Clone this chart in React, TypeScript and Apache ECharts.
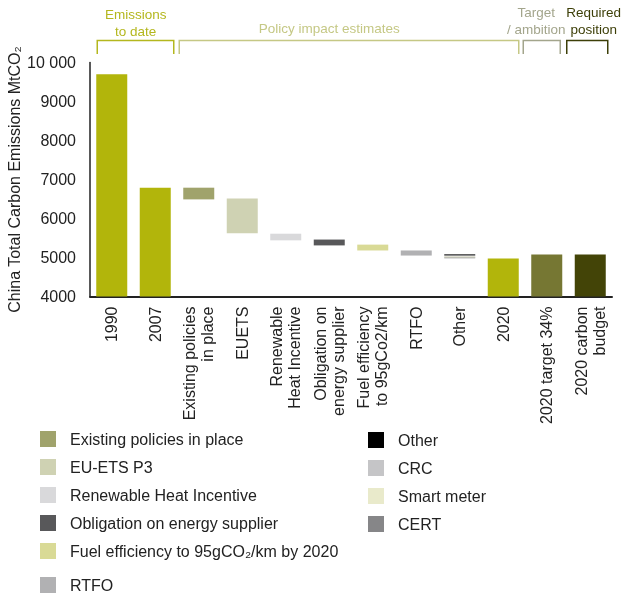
import React, { useEffect, useRef } from 'react';
import * as echarts from 'echarts';

const categories = [
  '1990',
  '2007',
  'Existing policies\nin place',
  'EUETS',
  'Renewable\nHeat Incentive',
  'Obligation on\nenergy supplier',
  'Fuel efficiency\nto 95gCo2/km',
  'RTFO',
  'Other',
  '2020',
  '2020 target 34%',
  '2020 carbon\nbudget',
];

const emissionTotals = [9700, 6790, null, null, null, null, null, null, null, 4975, null, null];
const targetValues = [null, null, null, null, null, null, null, null, null, null, 5075, null];
const budgetValues = [null, null, null, null, null, null, null, null, null, null, null, 5075];

const policyNames = [
  'Existing policies in place',
  'EU-ETS P3',
  'Renewable Heat Incentive',
  'Obligation on energy supplier',
  'Fuel efficiency to 95gCO₂/km by 2020',
  'RTFO',
];
const policyCategory = [2, 3, 4, 5, 6, 7];
const policyTop = [6790, 6510, 5610, 5460, 5330, 5180];
const policyBottom = [6490, 5620, 5440, 5310, 5180, 5050];
const policyColors = ['#a0a36c', '#cfd2b3', '#d9d9db', '#58585a', '#d9da96', '#b1b1b3'];

const otherCategory = 8;
const otherBase = 4980;
const otherNames = ['CERT', 'Smart meter', 'CRC', 'Other']; // bottom to top
const otherValues = [25, 25, 25, 25];
const otherColors = ['#868688', '#e9eacb', '#c5c5c7', '#000000'];
const otherLegendOrder = ['Other', 'CRC', 'Smart meter', 'CERT'];

const yTickValues = [4000, 5000, 6000, 7000, 8000, 9000, 10000];
const yTickLabels = ['4000', '5000', '6000', '7000', '8000', '9000', '10 000'];

const brackets = [
  { text: 'Emissions\nto date', from: 0, to: 1, l: -14.5, r: 18.5, textAt: 0.55, color: '#b4b71e', bottom: 40 },
  { text: 'Policy impact estimates', from: 2, to: 9, l: -19.5, r: 15.5, textAt: 5, color: '#c5c885', bottom: 37 },
  { text: 'Target\n/ ambition', from: 10, to: 10, l: -23.5, r: 13.5, textAt: 9.76, color: '#a3a58c', bottom: 38 },
  { text: 'Required\nposition', from: 11, to: 11, l: -23.5, r: 17.5, textAt: 11.08, color: '#3d3f08', bottom: 38 },
];

const FONT = '"Liberation Sans", Arial, Helvetica, sans-serif';

export default function App() {
  const ref = useRef<HTMLDivElement>(null);
  useEffect(() => {
    if (!ref.current) return;
    const chart = echarts.init(ref.current, null, { renderer: 'svg' });
    const n = categories.length;
    const empty = () => new Array(n).fill(null) as (number | null)[];

    const baseData = empty();
    policyCategory.forEach((c, i) => (baseData[c] = policyBottom[i]));
    baseData[otherCategory] = otherBase;

    const series: any[] = [
      {
        name: 'base',
        type: 'bar',
        stack: 'w',
        data: baseData,
        itemStyle: { color: 'transparent' },
        silent: true,
      },
      {
        name: 'Emissions',
        type: 'bar',
        stack: 'w',
        data: emissionTotals,
        itemStyle: { color: '#b2b50b' },
      },
    ];
    policyNames.forEach((name, i) => {
      const d = empty();
      d[policyCategory[i]] = policyTop[i] - policyBottom[i];
      series.push({ name, type: 'bar', stack: 'w', data: d, itemStyle: { color: policyColors[i] } });
    });
    otherNames.forEach((name, i) => {
      const d = empty();
      d[otherCategory] = otherValues[i];
      series.push({ name, type: 'bar', stack: 'w', data: d, itemStyle: { color: otherColors[i] } });
    });
    series.push({ name: '2020 target 34%', type: 'bar', stack: 'w', data: targetValues, itemStyle: { color: '#767733' } });
    series.push({ name: '2020 carbon budget', type: 'bar', stack: 'w', data: budgetValues, itemStyle: { color: '#434407' } });

    const legendCommon = {
      orient: 'vertical',
      icon: 'rect',
      itemWidth: 16,
      itemHeight: 16,
      itemGap: 12,
      padding: 0,
      selectedMode: false,
      textStyle: { fontSize: 16, color: '#222', fontFamily: FONT, padding: [0, 0, 0, 9] },
    };

    chart.setOption({
      animation: false,
      textStyle: { fontFamily: FONT },
      grid: { left: 90, right: 11, top: 62.5, bottom: 296.5, containLabel: false, outerBoundsMode: 'none' },
      legend: [
        { ...legendCommon, left: 40, top: 431, data: policyNames.slice(0, 5) },
        { ...legendCommon, left: 40, top: 577, data: policyNames.slice(5) },
        { ...legendCommon, left: 368, top: 432, data: otherLegendOrder },
      ],
      xAxis: {
        type: 'category',
        data: categories,
        axisLine: { lineStyle: { color: '#222', width: 2 } },
        axisTick: { show: false },
        axisLabel: {
          interval: 0,
          rotate: 90,
          fontSize: 16,
          lineHeight: 18,
          color: '#222',
          margin: 10,
          fontFamily: FONT,
        },
      },
      yAxis: {
        type: 'value',
        min: 4000,
        max: 10000,
        interval: 1000,
        name: 'China Total Carbon Emissions MtCO₂',
        nameLocation: 'middle',
        nameGap: 68,
        nameMoveOverlap: false,
        nameTextStyle: { fontSize: 16, color: '#222', fontFamily: FONT },
        axisLine: { show: true, lineStyle: { color: '#222', width: 1.5 } },
        axisTick: { show: false },
        splitLine: { show: false },
        axisLabel: {
          fontSize: 16,
          color: '#222',
          margin: 14,
          fontFamily: FONT,
          formatter: (v: number) => {
            const i = yTickValues.indexOf(v);
            return i >= 0 ? yTickLabels[i] : String(v);
          },
        },
      },
      series: series.map((s) => ({ ...s, barWidth: 31 })),
    });

    const px = (i: number) => chart.convertToPixel({ xAxisIndex: 0 }, i) as number;
    const p0 = px(0);
    const band = px(1) - p0;
    const at = (k: number) => p0 + k * band;
    const graphics: any[] = [];
    brackets.forEach((b) => {
      const x1 = px(b.from) + b.l;
      const x2 = px(b.to) + b.r;
      graphics.push({
        type: 'polyline',
        shape: { points: [[x1, 54], [x1, 40.5], [x2, 40.5], [x2, 54]] },
        style: { stroke: b.color, lineWidth: 1.5, fill: null },
        silent: true,
      });
      graphics.push({
        type: 'text',
        x: at(b.textAt),
        y: b.bottom,
        style: {
          text: b.text,
          fill: b.color,
          fontSize: 13.5,
          lineHeight: 17,
          fontFamily: FONT,
          align: 'center',
          verticalAlign: 'bottom',
        },
        silent: true,
      });
    });
    chart.setOption({ graphic: graphics });

    return () => chart.dispose();
  }, []);
  return <div ref={ref} style={{ position: 'fixed', left: 0, top: 0, width: 623, height: 593 }} />;
}
